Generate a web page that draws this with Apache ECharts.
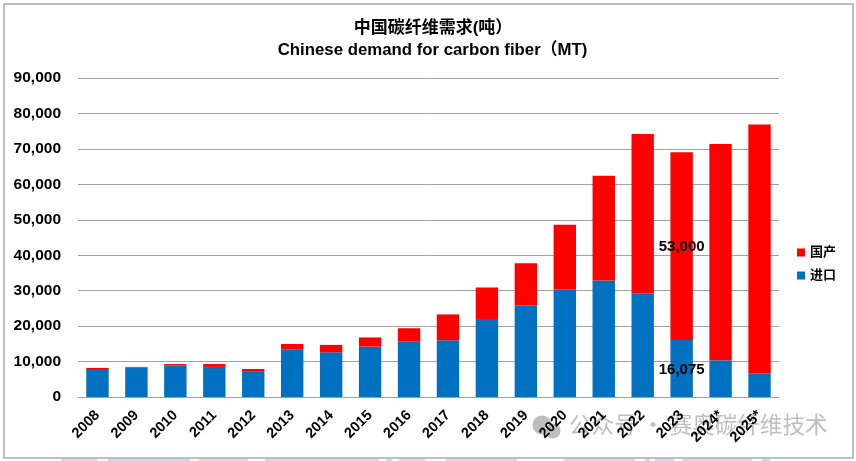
<!DOCTYPE html>
<html>
<head>
<meta charset="utf-8">
<style>
  html, body { margin: 0; padding: 0; background: #fff; }
  #main { width: 856px; height: 461px; }
</style>
<script src="https://cdn.jsdelivr.net/npm/echarts@6/dist/echarts.min.js"></script>
</head>
<body>
<div id="main"></div>
<script>
// values (tonnes)
var years = ['2008', '2009', '2010', '2011', '2012', '2013', '2014', '2015', '2016',
  '2017', '2018', '2019', '2020', '2021', '2022', '2023', '2024*', '2025*'];
var imported = [7900, 8300, 8900, 8500, 7300, 13450, 12600, 14200, 15700,
  16000, 22000, 25800, 30400, 32900, 29300, 16075, 10350, 6700];
var domestic = [300, 200, 400, 800, 600, 1500, 2100, 2600, 3700,
  7300, 8900, 11900, 18200, 29500, 44900, 53000, 61050, 70200];
var labelledYear = '2023';

var latin = '"Liberation Sans", Arial, sans-serif';
var cjk = '"Liberation Sans", "Noto Sans CJK SC", sans-serif';
var markGrey = 'rgba(125,125,125,0.5)';

function fmt(v) {
  return Number(v).toLocaleString('en-US');
}

function barSeries(name, values, color) {
  return {
    name: name,
    type: 'bar',
    stack: 'demand',
    barWidth: '57.5%',
    itemStyle: { color: color },
    label: {
      show: true,
      position: 'inside',
      offset: [0, 1],
      color: '#000',
      fontFamily: latin,
      fontWeight: 'bold',
      fontSize: 15,
      // only one year carries value labels
      formatter: function (p) {
        return p.name === labelledYear ? fmt(p.value) : '';
      }
    },
    data: values
  };
}

// remains of the next picture showing under the frame
function stripRect(x, width, color) {
  return { type: 'rect', z: 1, shape: { x: x, y: 459, width: width, height: 2 }, style: { fill: color } };
}
var pink = '#fbc9cd';
var pale = '#c6d8f8';

var chart = echarts.init(document.getElementById('main'));
chart.setOption({
  animation: false,
  backgroundColor: '#fff',
  title: [
    {
      text: '中国碳纤维需求(吨）',
      left: 428, top: 15, textAlign: 'center',
      textStyle: { fontFamily: cjk, fontSize: 17, fontWeight: 'bold', color: '#000' }
    },
    {
      text: 'Chinese demand for carbon fiber（MT)',
      left: 427.5, top: 37, textAlign: 'center',
      textStyle: { fontFamily: cjk, fontSize: 16.8, fontWeight: 'bold', color: '#000' }
    }
  ],
  legend: {
    orient: 'vertical',
    left: 792, top: 241,
    icon: 'rect',
    itemWidth: 8, itemHeight: 8, itemGap: 10,
    data: ['国产', '进口'],
    textStyle: { fontFamily: cjk, fontSize: 13, fontWeight: 'bold', color: '#000' }
  },
  grid: { left: 78, top: 78, width: 701, height: 319 },
  xAxis: {
    type: 'category',
    z: 5,
    data: years,
    axisTick: { show: false },
    axisLine: { lineStyle: { color: '#a0a0a0', width: 1 } },
    axisLabel: {
      rotate: 45, interval: 0, margin: 16, color: '#000',
      fontFamily: latin, fontWeight: 'bold', fontSize: 14.5
    }
  },
  yAxis: {
    type: 'value',
    min: 0, max: 90000, interval: 10000,
    axisLine: { show: false },
    axisTick: { show: false },
    splitLine: { lineStyle: { color: '#a0a0a0', width: 1 } },
    axisLabel: {
      margin: 17, color: '#000',
      fontFamily: latin, fontWeight: 'bold', fontSize: 15.5,
      padding: [3, 0, 0, 0],
      formatter: fmt
    }
  },
  series: [
    barSeries('进口', imported, '#0070c0'),
    barSeries('国产', domestic, '#ff0000')
  ],
  graphic: [
    // outer frame
    { type: 'rect', z: 0, shape: { x: 4, y: 4, width: 849, height: 454 },
      style: { fill: 'none', stroke: '#bfbfbf', lineWidth: 2 } },
    stripRect(61, 36, pink), stripRect(108, 82, pale), stripRect(199, 49, pink),
    stripRect(265, 114, pink), stripRect(386, 6, pale), stripRect(399, 26, pink),
    stripRect(446, 71, pink), stripRect(564, 71, pink), stripRect(645, 5, pale),
    stripRect(655, 19, pale), stripRect(682, 70, pink), stripRect(762, 8, pale),
    // watermark, under the axis labels
    { type: 'text', z: 1, left: 569, top: 413,
      style: { text: '公众号 · 赛奥碳纤维技术', fill: markGrey,
        font: '22.6px "Noto Sans CJK SC", sans-serif' } },
    { type: 'circle', z: 1, shape: { cx: 542, cy: 425, r: 9.5 }, style: { fill: '#bdbdbd' } },
    { type: 'circle', z: 1, shape: { cx: 553, cy: 431, r: 8 },
      style: { fill: '#bdbdbd', stroke: '#fff', lineWidth: 1 } }
  ]
});
</script>
</body>
</html>
